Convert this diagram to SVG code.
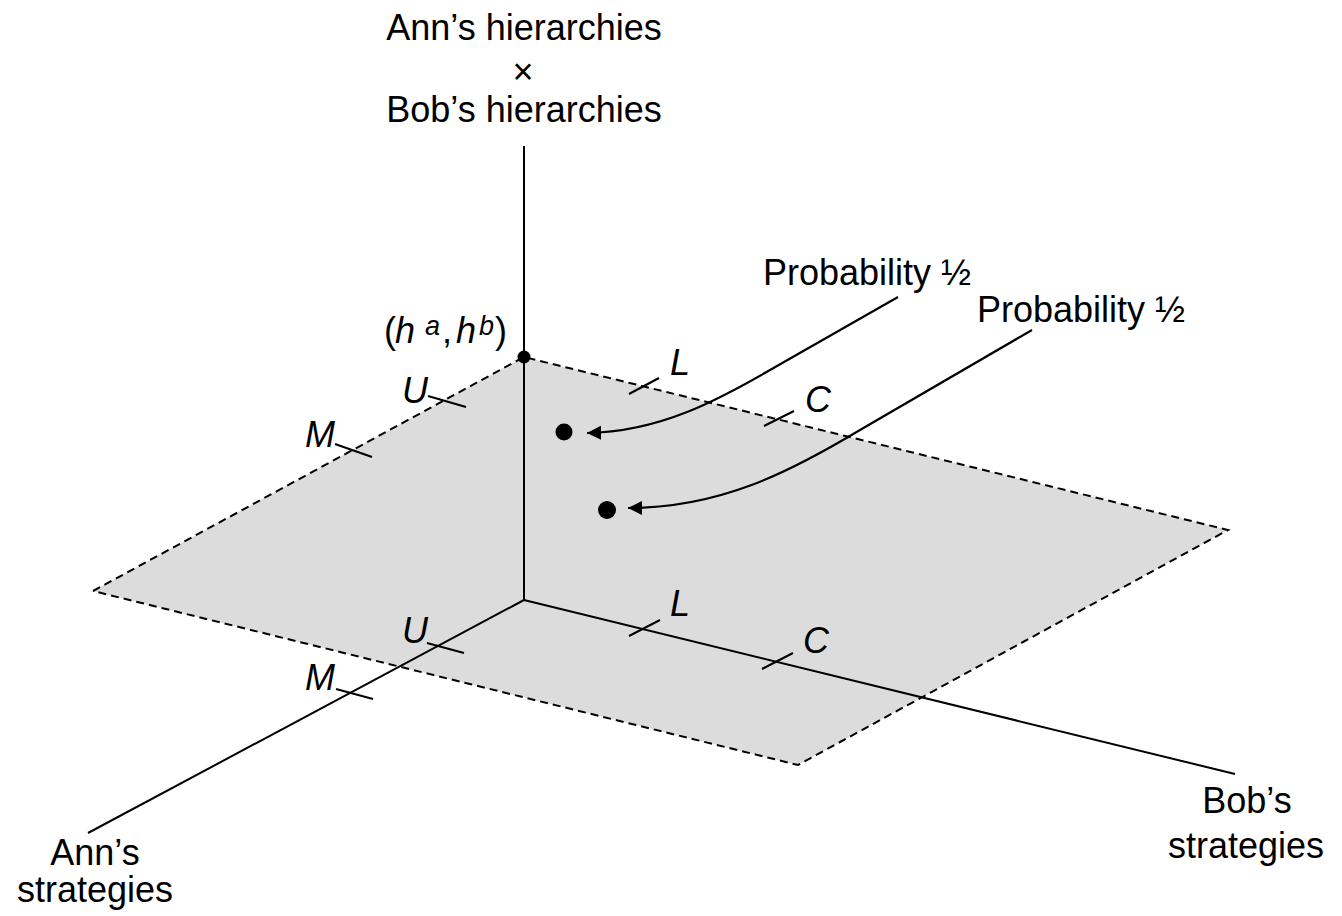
<svg xmlns="http://www.w3.org/2000/svg" width="1342" height="916" viewBox="0 0 1342 916">
<style>
text{font-family:"Liberation Sans",Arial,Helvetica,sans-serif;font-size:36px;fill:#000}
.it{font-style:italic}
.ax{stroke:#000;stroke-width:2;fill:none}
.dash{stroke:#000;stroke-width:2;fill:none;stroke-dasharray:8,5}
.tick{stroke:#000;stroke-width:2}
.arr{stroke:#000;stroke-width:2.2;fill:none;marker-end:url(#ah)}
</style>
<defs>
<marker id="ah" markerUnits="userSpaceOnUse" markerWidth="16" markerHeight="16" refX="14" refY="7" orient="auto">
<path d="M0,0 L14,7 L0,14 z" fill="#000"/>
</marker>
</defs>
<g id="plane">
<polygon points="524,357 1228,530 798,765 93,591" fill="#dcdcdc"/>
<polyline class="dash" points="93,591 524,357 1228,530 798,765 93,591"/>
</g>
<g id="connectors">
<line class="ax" x1="524" y1="146" x2="524" y2="600"/>
<line class="ax" x1="524" y1="600" x2="88" y2="833"/>
<line class="ax" x1="524" y1="600" x2="1235" y2="774"/>
<line class="tick" x1="428" y1="396" x2="466" y2="407"/>
<line class="tick" x1="335" y1="444" x2="372" y2="457"/>
<line class="tick" x1="629" y1="394" x2="659" y2="378"/>
<line class="tick" x1="764" y1="426" x2="794" y2="411"/>
<line class="tick" x1="427" y1="643" x2="464" y2="653"/>
<line class="tick" x1="336" y1="689" x2="373" y2="699"/>
<line class="tick" x1="629" y1="636" x2="660" y2="620"/>
<line class="tick" x1="762" y1="669" x2="793" y2="653"/>
<path class="arr" d="M898,297 L770,370 C720,399 660,432 587,433"/>
<path class="arr" d="M1032,330 L860,430 C790,472 720,508 628,508"/>
</g>
<g id="points">
<circle cx="524" cy="357" r="6.5" fill="#000"/>
<circle cx="564" cy="432" r="8.5" fill="#000"/>
<circle cx="607" cy="510" r="9" fill="#000"/>
</g>
<g id="label-vertical">
<text x="524" y="40" text-anchor="middle">Ann’s hierarchies</text>
<text x="523" y="84" text-anchor="middle" font-size="40">×</text>
<text x="524" y="122" text-anchor="middle">Bob’s hierarchies</text>
</g>
<g id="label-origin">
<text y="343"><tspan x="384">(</tspan><tspan x="395" class="it">h</tspan><tspan x="425" y="335" class="it" font-size="27">a</tspan><tspan x="442" y="343">,</tspan><tspan x="456" class="it">h</tspan><tspan x="479" y="335" class="it" font-size="27">b</tspan><tspan x="495" y="343">)</tspan></text>
</g>
<g id="label-ann">
<text x="95" y="865" text-anchor="middle">Ann’s</text>
<text x="95" y="902" text-anchor="middle">strategies</text>
</g>
<g id="label-bob">
<text x="1247" y="813" text-anchor="middle">Bob’s</text>
<text x="1246" y="858" text-anchor="middle">strategies</text>
</g>
<g id="label-prob">
<text x="763" y="285">Probability ½</text>
<text x="977" y="322">Probability ½</text>
</g>
<g id="tick-labels">
<text class="it" x="402" y="403">U</text>
<text class="it" x="305" y="447">M</text>
<text class="it" x="670" y="375">L</text>
<text class="it" x="805" y="412">C</text>
<text class="it" x="402" y="643">U</text>
<text class="it" x="305" y="690">M</text>
<text class="it" x="670" y="616">L</text>
<text class="it" x="803" y="653">C</text>
</g>
</svg>
